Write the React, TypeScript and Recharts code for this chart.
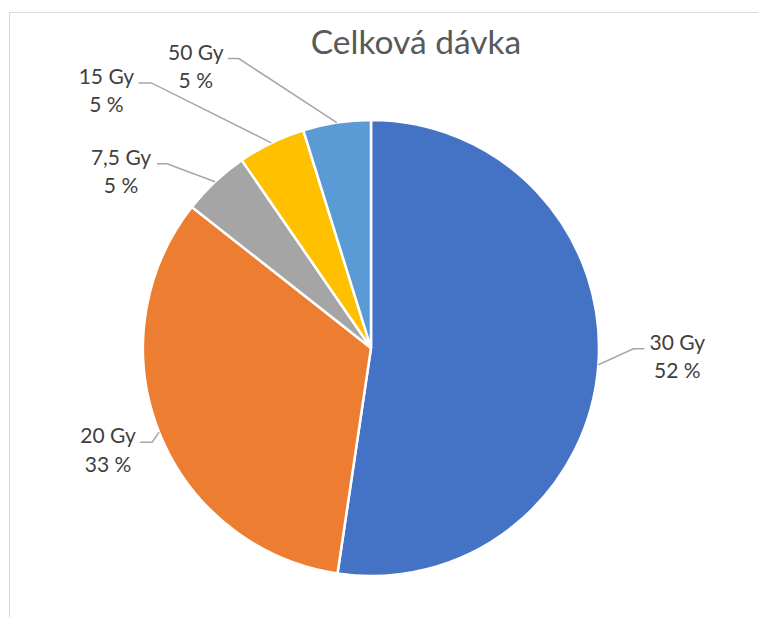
import React from 'react';
import { PieChart, Pie, Cell } from 'recharts';

const doses = ['30 Gy', '20 Gy', '7,5 Gy', '15 Gy', '50 Gy'];
const shares = [52.4, 33.3, 4.8, 4.8, 4.8];
const colors = ['#4472C4', '#ED7D31', '#A5A5A5', '#FFC000', '#5B9BD5'];

const data = doses.map((name, i) => ({ name, value: shares[i] }));

// leader line elbow offset from the slice edge, then horizontal run, then text center offset
const labelLayout = [
  { dx: 35, dy: -16, run: 11, tx: 33 },
  { dx: -7, dy: 10, run: -12, tx: -32 },
  { dx: -48, dy: -18, run: -10, tx: -36 },
  { dx: -120, dy: -60, run: -13, tx: -32 },
  { dx: -98, dy: -64, run: -11, tx: -32 },
];

const RADIAN = Math.PI / 180;
const FONT = 'Lato, "Open Sans", sans-serif';

const renderLabel = (props: any) => {
  const { cx, cy, midAngle, outerRadius, percent, index, name } = props;
  const lay = labelLayout[index];
  const ex = cx + outerRadius * Math.cos(-midAngle * RADIAN);
  const ey = cy + outerRadius * Math.sin(-midAngle * RADIAN);
  const bx = ex + lay.dx;
  const by = ey + lay.dy;
  const hx = bx + lay.run;
  const tx = hx + lay.tx;
  return (
    <g>
      <polyline
        points={`${ex},${ey} ${bx},${by} ${hx},${by}`}
        fill="none"
        stroke="#A6A6A6"
        strokeWidth={1.5}
      />
      <text x={tx} y={by + 1} textAnchor="middle" fill="#404040" fontSize={21} fontFamily={FONT}>
        {name}
      </text>
      <text x={tx} y={by + 29.5} textAnchor="middle" fill="#404040" fontSize={21} fontFamily={FONT}>
        {`${Math.round(percent * 100)} %`}
      </text>
    </g>
  );
};

export default function App() {
  return (
    <div style={{ position: 'absolute', left: 0, top: 0, width: 758, height: 617, overflow: 'hidden', background: '#fff' }}>
      <div
        style={{
          position: 'absolute',
          left: 9,
          top: 12,
          width: 800,
          height: 700,
          borderLeft: '1px solid #D9D9D9',
          borderTop: '1px solid #D9D9D9',
        }}
      />
      <div
        style={{
          position: 'absolute',
          left: 216,
          width: 400,
          top: 19,
          textAlign: 'center',
          fontFamily: FONT,
          fontSize: 33.5,
          color: '#595959',
          lineHeight: '44px',
        }}
      >
        Celková dávka
      </div>
      <PieChart
        width={758}
        height={617}
        margin={{ top: 0, right: 0, bottom: 0, left: 0 }}
        style={{ position: 'absolute', left: 0, top: 0 }}
      >
        <Pie
          data={data}
          dataKey="value"
          nameKey="name"
          cx={371}
          cy={348}
          outerRadius={228}
          startAngle={90}
          endAngle={-270}
          stroke="#FFFFFF"
          strokeWidth={2.5}
          label={renderLabel}
          labelLine={false}
          isAnimationActive={false}
        >
          {data.map((d, i) => (
            <Cell key={d.name} fill={colors[i]} />
          ))}
        </Pie>
      </PieChart>
    </div>
  );
}
